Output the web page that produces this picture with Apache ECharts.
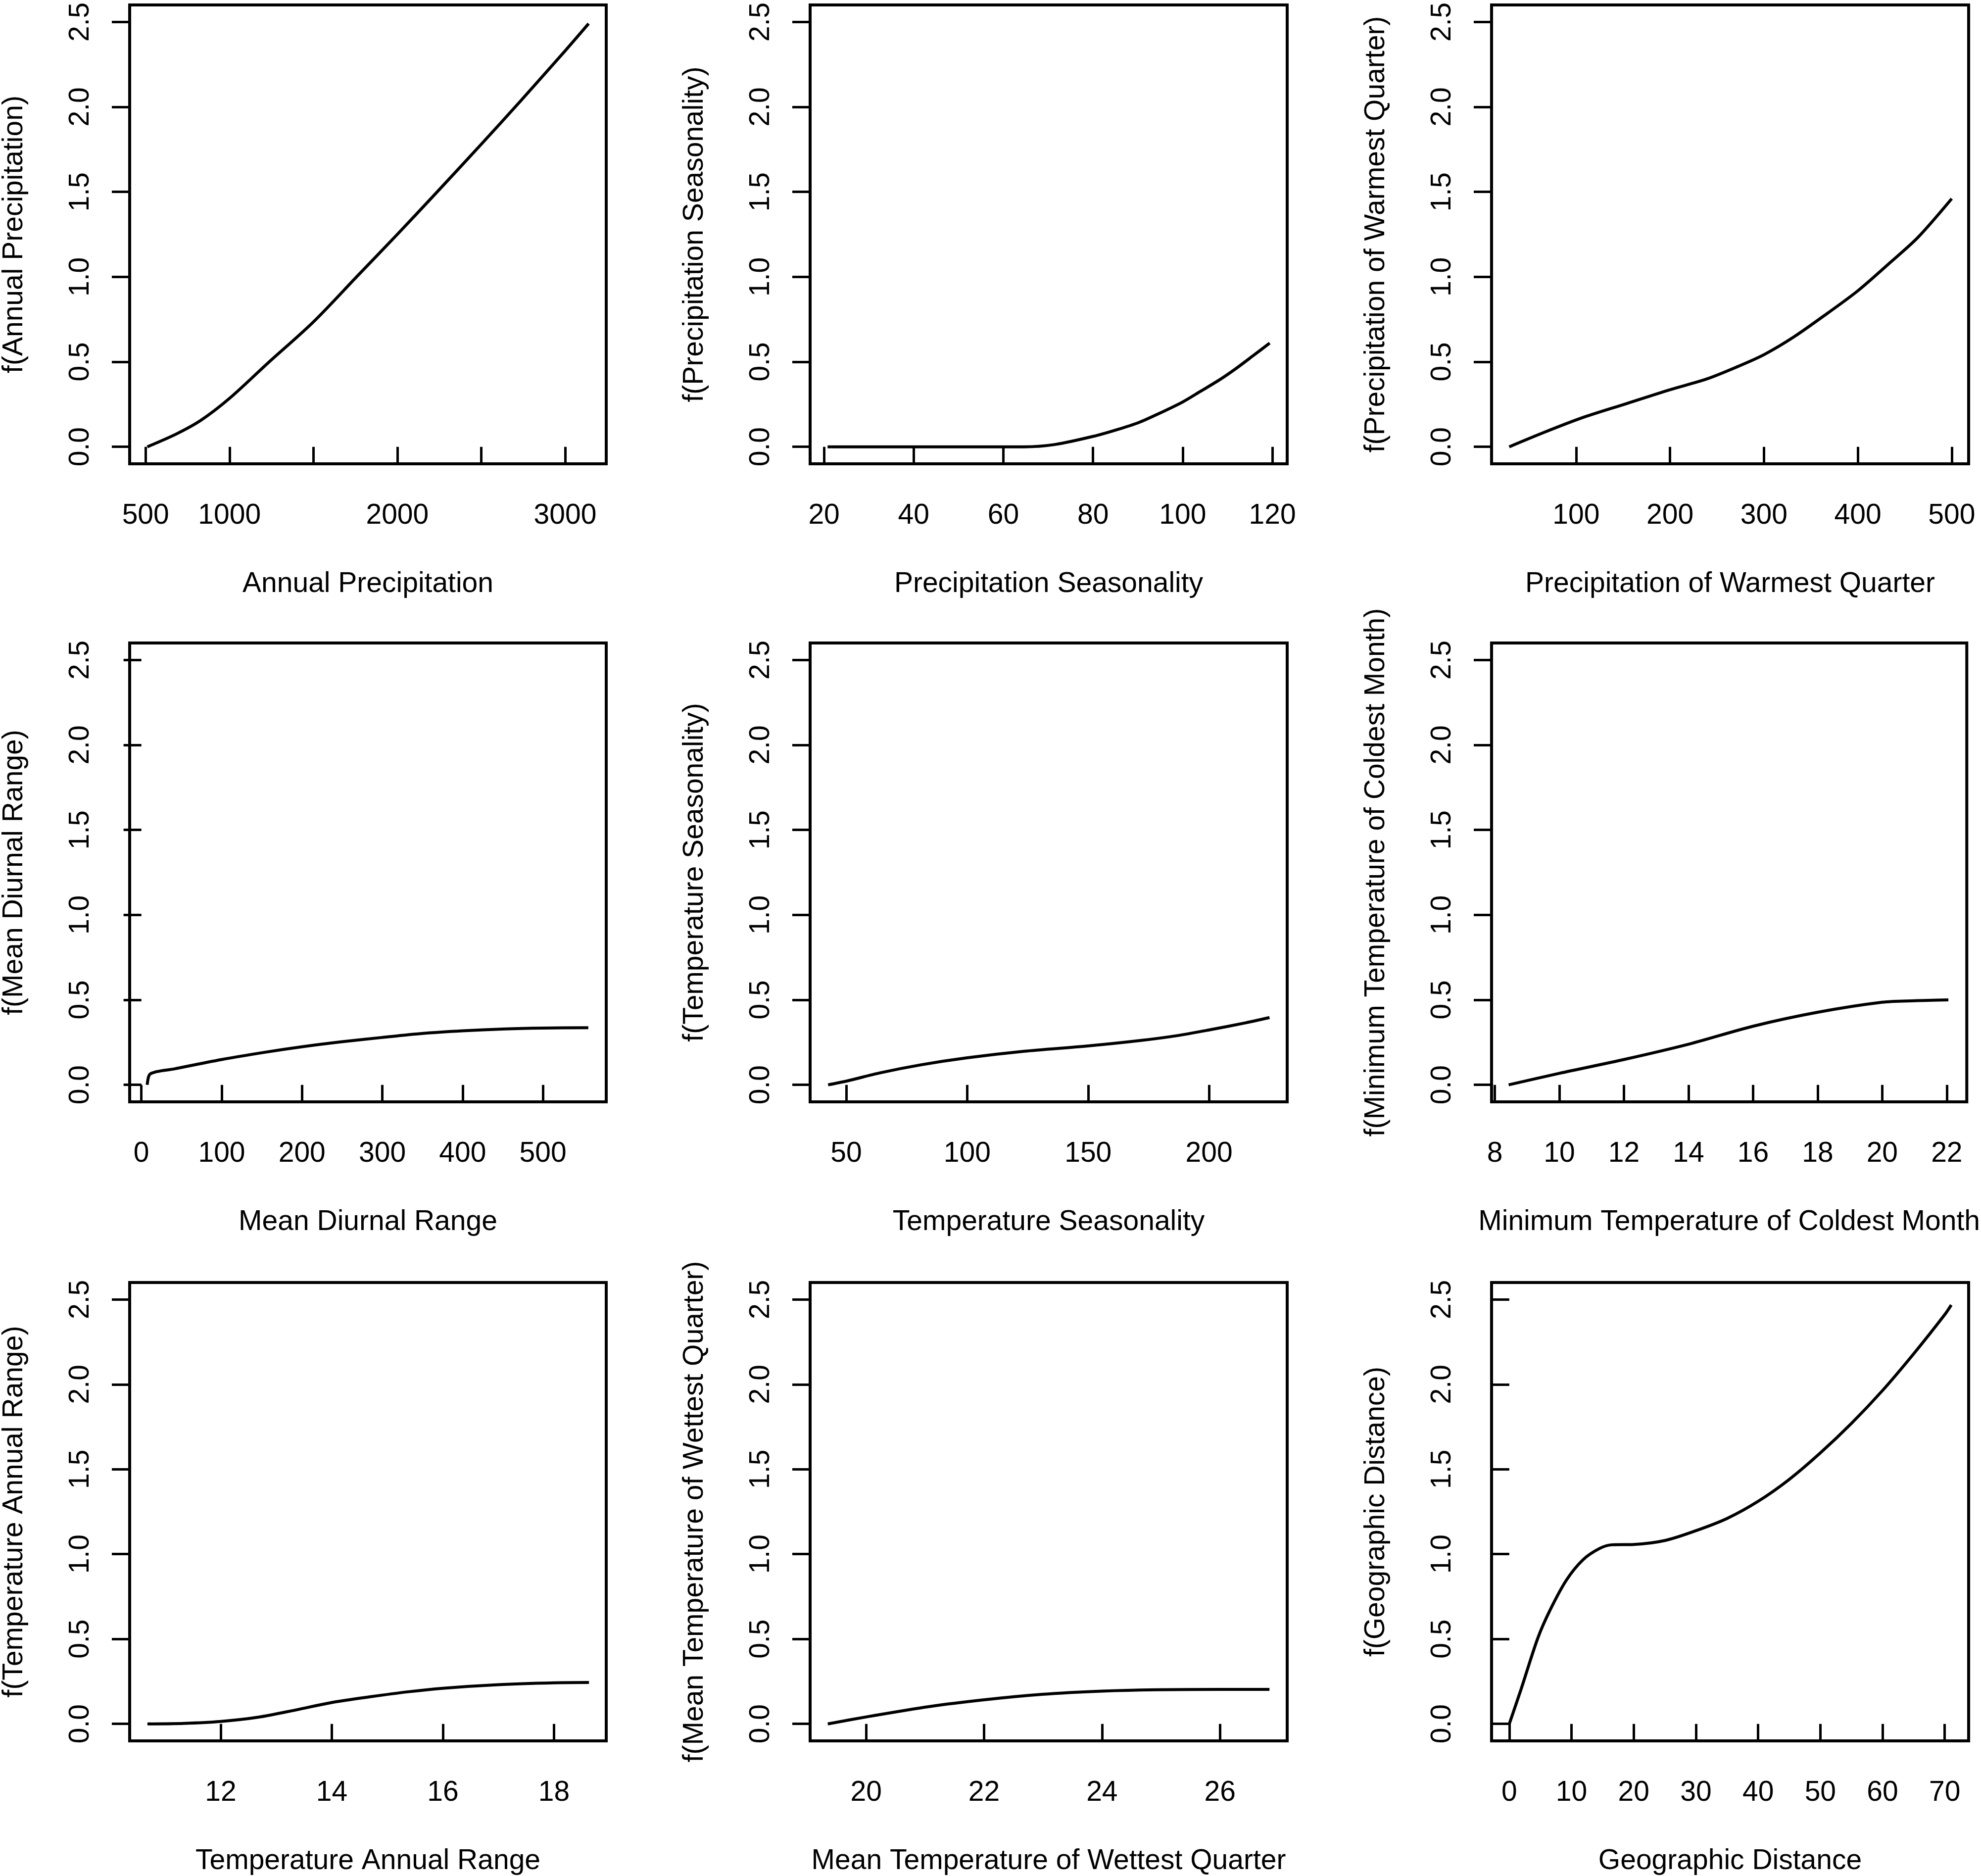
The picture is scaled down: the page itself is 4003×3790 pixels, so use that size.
<!DOCTYPE html>
<html>
<head>
<meta charset="utf-8">
<script src="https://cdn.jsdelivr.net/npm/echarts@6/dist/echarts.min.js"></script>
<style>
html, body { margin: 0; padding: 0; background: #fff; }
#chart { width: 4003px; height: 3790px; }
</style>
</head>
<body>
<div id="chart"></div>
<script>
// ---- data ----
const annualPrecipX = [510, 684, 831, 1000, 1228, 1500, 1762, 2000, 2228, 2500, 2730, 3000, 3140];
const annualPrecipY = [0, 0.076, 0.157, 0.285, 0.492, 0.735, 1.005, 1.25, 1.49, 1.78, 2.03, 2.33, 2.49];

const precipSeasX = [20.8, 40, 60, 64.6, 71.6, 80.6, 85.4, 90.3, 94.4, 100, 104, 108.2, 111.7, 115.8, 119.4];
const precipSeasY = [0, 0, 0, 0, 0.014, 0.065, 0.101, 0.144, 0.192, 0.264, 0.327, 0.394, 0.457, 0.538, 0.61];

const precipWarmX = [28.8, 66.9, 106.6, 153, 200, 239, 272, 300, 332, 368, 400, 434.4, 464, 500];
const precipWarmY = [0, 0.087, 0.171, 0.253, 0.336, 0.399, 0.472, 0.542, 0.647, 0.787, 0.918, 1.084, 1.232, 1.46];

const diurnalX = [7.3, 11.2, 41.2, 100, 152.7, 200, 248.8, 300, 348.8, 400, 452.7, 500, 556.5];
const diurnalY = [0, 0.065, 0.094, 0.149, 0.191, 0.224, 0.253, 0.279, 0.302, 0.318, 0.329, 0.334, 0.336];

const tempSeasX = [42.5, 50.4, 63.8, 81, 100, 123.2, 150, 171.7, 187, 200, 215.1, 225];
const tempSeasY = [0, 0.023, 0.07, 0.118, 0.159, 0.197, 0.229, 0.261, 0.29, 0.323, 0.365, 0.396];

const minTempX = [8.43, 10, 12, 14, 16, 18, 20, 21, 22.05];
const minTempY = [0, 0.068, 0.149, 0.239, 0.345, 0.427, 0.486, 0.495, 0.5];

const annRangeX = [10.68, 11.33, 12, 12.67, 13.35, 14, 14.7, 15.37, 16, 17, 18, 18.63];
const annRangeY = [0, 0.003, 0.0145, 0.039, 0.082, 0.126, 0.16, 0.189, 0.21, 0.231, 0.242, 0.244];

const wetTempX = [19.35, 20.05, 21.07, 22, 22.98, 24, 24.9, 26, 26.84];
const wetTempY = [0, 0.044, 0.102, 0.142, 0.174, 0.193, 0.201, 0.203, 0.203];

const geoDistX = [0, 1.92, 4.57, 6.55, 9.2, 11.85, 14.5, 16.5, 20, 25.1, 30, 35, 40, 45, 50, 55, 60, 65, 70, 71.05];
const geoDistY = [0, 0.207, 0.504, 0.67, 0.848, 0.967, 1.033, 1.055, 1.057, 1.081, 1.138, 1.21, 1.311, 1.44, 1.596, 1.77, 1.964, 2.18, 2.411, 2.468];

// ---- ticks and labels ----
const yTicks = [0, 0.5, 1.0, 1.5, 2.0, 2.5];
const annualPrecipTicks = [500, 1000, 1500, 2000, 2500, 3000];
const annualPrecipLabels = [500, 1000, 2000, 3000];
const precipSeasTicks = [20, 40, 60, 80, 100, 120];
const precipWarmTicks = [100, 200, 300, 400, 500];
const diurnalTicks = [0, 100, 200, 300, 400, 500];
const tempSeasTicks = [50, 100, 150, 200];
const minTempTicks = [8, 10, 12, 14, 16, 18, 20, 22];
const annRangeTicks = [12, 14, 16, 18];
const wetTempTicks = [20, 22, 24, 26];
const geoDistTicks = [0, 10, 20, 30, 40, 50, 60, 70];

const panels = [
  { x: annualPrecipX, y: annualPrecipY, ticks: annualPrecipTicks, labels: annualPrecipLabels, xmin: 405, xmax: 3245, xname: 'Annual Precipitation', yname: 'f(Annual Precipitation)' },
  { x: precipSeasX, y: precipSeasY, ticks: precipSeasTicks, labels: precipSeasTicks, xmin: 16.9, xmax: 123.3, xname: 'Precipitation Seasonality', yname: 'f(Precipitation Seasonality)' },
  { x: precipWarmX, y: precipWarmY, ticks: precipWarmTicks, labels: precipWarmTicks, xmin: 10, xmax: 518, xname: 'Precipitation of Warmest Quarter', yname: 'f(Precipitation of Warmest Quarter)' },
  { x: diurnalX, y: diurnalY, ticks: diurnalTicks, labels: diurnalTicks, xmin: -14.6, xmax: 578.8, xname: 'Mean Diurnal Range', yname: 'f(Mean Diurnal Range)' },
  { x: tempSeasX, y: tempSeasY, ticks: tempSeasTicks, labels: tempSeasTicks, xmin: 35.06, xmax: 232.3, xname: 'Temperature Seasonality', yname: 'f(Temperature Seasonality)' },
  { x: minTempX, y: minTempY, ticks: minTempTicks, labels: minTempTicks, xmin: 7.9, xmax: 22.62, xname: 'Minimum Temperature of Coldest Month', yname: 'f(Minimum Temperature of Coldest Month)' },
  { x: annRangeX, y: annRangeY, ticks: annRangeTicks, labels: annRangeTicks, xmin: 10.36, xmax: 18.94, xname: 'Temperature Annual Range', yname: 'f(Temperature Annual Range)' },
  { x: wetTempX, y: wetTempY, ticks: wetTempTicks, labels: wetTempTicks, xmin: 19.05, xmax: 27.14, xname: 'Mean Temperature of Wettest Quarter', yname: 'f(Mean Temperature of Wettest Quarter)' },
  { x: geoDistX, y: geoDistY, ticks: geoDistTicks, labels: geoDistTicks, xmin: -2.85, xmax: 73.84, xname: 'Geographic Distance', yname: 'f(Geographic Distance)' }
];

// ---- layout ----
const colLeft = [261, 1637, 3014];
const rowTop = [10, 1299, 2591];
const boxW = 964, boxH = 927;
const FONT = 'Liberation Sans, Arial, sans-serif';
const FS = 57;
const textStyle = { color: '#000', fontFamily: FONT, fontSize: FS };

const grids = [], xAxes = [], yAxes = [], series = [];
panels.forEach((p, i) => {
  const r = Math.floor(i / 3), c = i % 3;
  grids.push({
    left: colLeft[c], top: rowTop[r], width: boxW, height: boxH,
    show: true, borderColor: '#000', borderWidth: 6, backgroundColor: 'transparent',
    containLabel: false
  });
  xAxes.push({
    type: 'value', gridIndex: i, min: p.xmin, max: p.xmax,
    name: p.xname, nameLocation: 'middle', nameGap: 215,
    nameTextStyle: textStyle,
    axisLine: { show: false },
    axisTick: { show: true, inside: false, length: 36, customValues: p.ticks, lineStyle: { color: '#000', width: 5 } },
    axisLabel: { show: true, margin: 77, customValues: p.labels, color: '#000', fontFamily: FONT, fontSize: FS, hideOverlap: false,
      formatter: v => String(v) },
    splitLine: { show: false }
  });
  yAxes.push({
    type: 'value', gridIndex: i, min: -0.1, max: 2.6,
    name: p.yname, nameLocation: 'middle', nameGap: 204, nameRotate: 90,
    nameTextStyle: textStyle,
    axisLine: { show: false },
    axisTick: { show: true, inside: false, length: 36, customValues: yTicks, lineStyle: { color: '#000', width: 5 } },
    axisLabel: { show: true, rotate: 90, margin: 70, customValues: yTicks, color: '#000', fontFamily: FONT, fontSize: FS,
      formatter: v => Number(v).toFixed(1) },
    splitLine: { show: false }
  });
  series.push({
    type: 'line', xAxisIndex: i, yAxisIndex: i,
    data: p.x.map((xv, k) => [xv, p.y[k]]),
    showSymbol: false, symbol: 'none',
    smooth: 0.3,
    lineStyle: { color: '#000', width: 6 },
    animation: false, silent: true
  });
});

const chart = echarts.init(document.getElementById('chart'), null, { renderer: 'canvas' });
chart.setOption({
  backgroundColor: '#fff',
  animation: false,
  grid: grids, xAxis: xAxes, yAxis: yAxes, series: series
});
</script>
</body>
</html>
